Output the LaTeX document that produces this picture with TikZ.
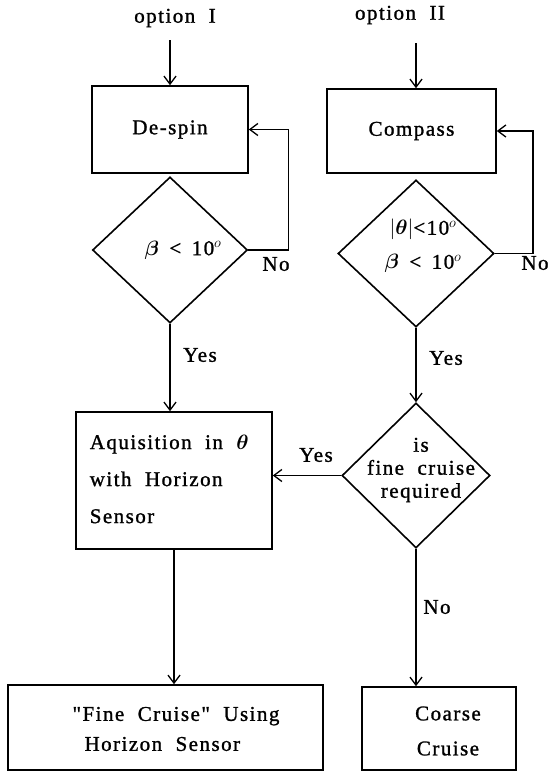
\documentclass[tikz,border=0pt]{standalone}
\usepackage{amsmath}
\usepackage{fontspec}
\setmainfont{Liberation Serif}[LetterSpace=7,WordSpace=2,FakeBold=1.2]
\usetikzlibrary{shapes.geometric,arrows.meta}
\newcommand\chartfont{\fontsize{21}{26}\selectfont}
\begin{document}
\begin{tikzpicture}[x=1pt,y=-1pt,
  line width=1.6pt,
  every node/.style={font=\chartfont, inner sep=0pt},
  flowbox/.style={draw, rectangle, inner sep=0pt},
  decision/.style={draw, diamond, inner sep=0pt},
  arr/.style={-{Straight Barb[length=8pt,width=12pt,line width=1.3pt]}}
]
\useasboundingbox (0,0) rectangle (550,773);

% entry labels
\node[inner ysep=12.5pt] (optI) at (175,18) {option I};
\node[inner ysep=18.5pt] (optII) at (400,15) {option II};

% option I branch
\node[flowbox, minimum width=156pt, minimum height=87pt] (despin) at (170,129.5) {De-spin};
\node[decision, minimum width=155pt, minimum height=146pt] (d1) at (170,250) {};
\node (d1txt) at (183,250) {$\boldsymbol{\beta}$\enspace<\enspace10$^o$};

% option II branch
\node[flowbox, minimum width=169pt, minimum height=84pt] (compass) at (411.5,131) {Compass};
\node[decision, minimum width=156pt, minimum height=147pt] (d2) at (416,253.5) {};
\node[align=center, font=\fontsize{21}{34}\selectfont] (d2txt) at (423,246) {$|\boldsymbol{\theta}|$<10$^o$\\$\boldsymbol{\beta}$\enspace<\enspace10$^o$};

\node[decision, minimum width=148pt, minimum height=145pt] (d3) at (416,475.5) {};
\node[align=center, font=\fontsize{21}{23}\selectfont] (d3txt) at (421,470) {is\\fine cruise\\required};

% acquisition and cruise modes
\node[flowbox, minimum width=196pt, minimum height=137pt] (aq) at (174,480.5) {};
\node[anchor=west, align=left, font=\fontsize{21}{37}\selectfont] (aqtxt) at (89,479) {Aquisition in $\boldsymbol{\theta}$\\with Horizon\\Sensor};

\node[flowbox, minimum width=315pt, minimum height=85pt] (fine) at (165.5,727.5) {};
\node[align=left, font=\fontsize{21}{30}\selectfont\addfontfeature{Ligatures=TeXOff}] (finetxt) at (176,729) {"Fine Cruise" Using\\\hspace{12pt}Horizon Sensor};

\node[flowbox, minimum width=154pt, minimum height=83pt] (coarse) at (439,728.5) {};
\node[align=center, font=\fontsize{21}{35}\selectfont] (coarsetxt) at (448,731) {Coarse\\Cruise};

% connectors
\draw[arr] (optI.south -| despin.north) -- (despin.north);
\draw[arr] (optII.south -| d2.north) -- (d2.north |- compass.north);
\draw[arr] (d1.east) -- ++(40,0) |- (despin.east);
\draw[arr] (d2.east) -- ++(38,0) |- (compass.east);
\draw[arr] (d1.south) -- (d1.south |- aq.north);
\draw[arr] (d2.south) -- (d3.north);
\draw[arr] (d3.west) -- (d3.west -| aq.east);
\draw[arr] (d3.south) -- (d3.south |- coarse.north);
\draw[arr] (aq.south) -- (aq.south |- fine.north);

% branch labels
\node (no1) at (276,264) {No};
\node (no2) at (535,263) {No};
\node (yes1) at (200,355) {Yes};
\node (yes2) at (446,358) {Yes};
\node (yes3) at (316,455) {Yes};
\node (no3) at (437,607) {No};
\end{tikzpicture}
\end{document}
